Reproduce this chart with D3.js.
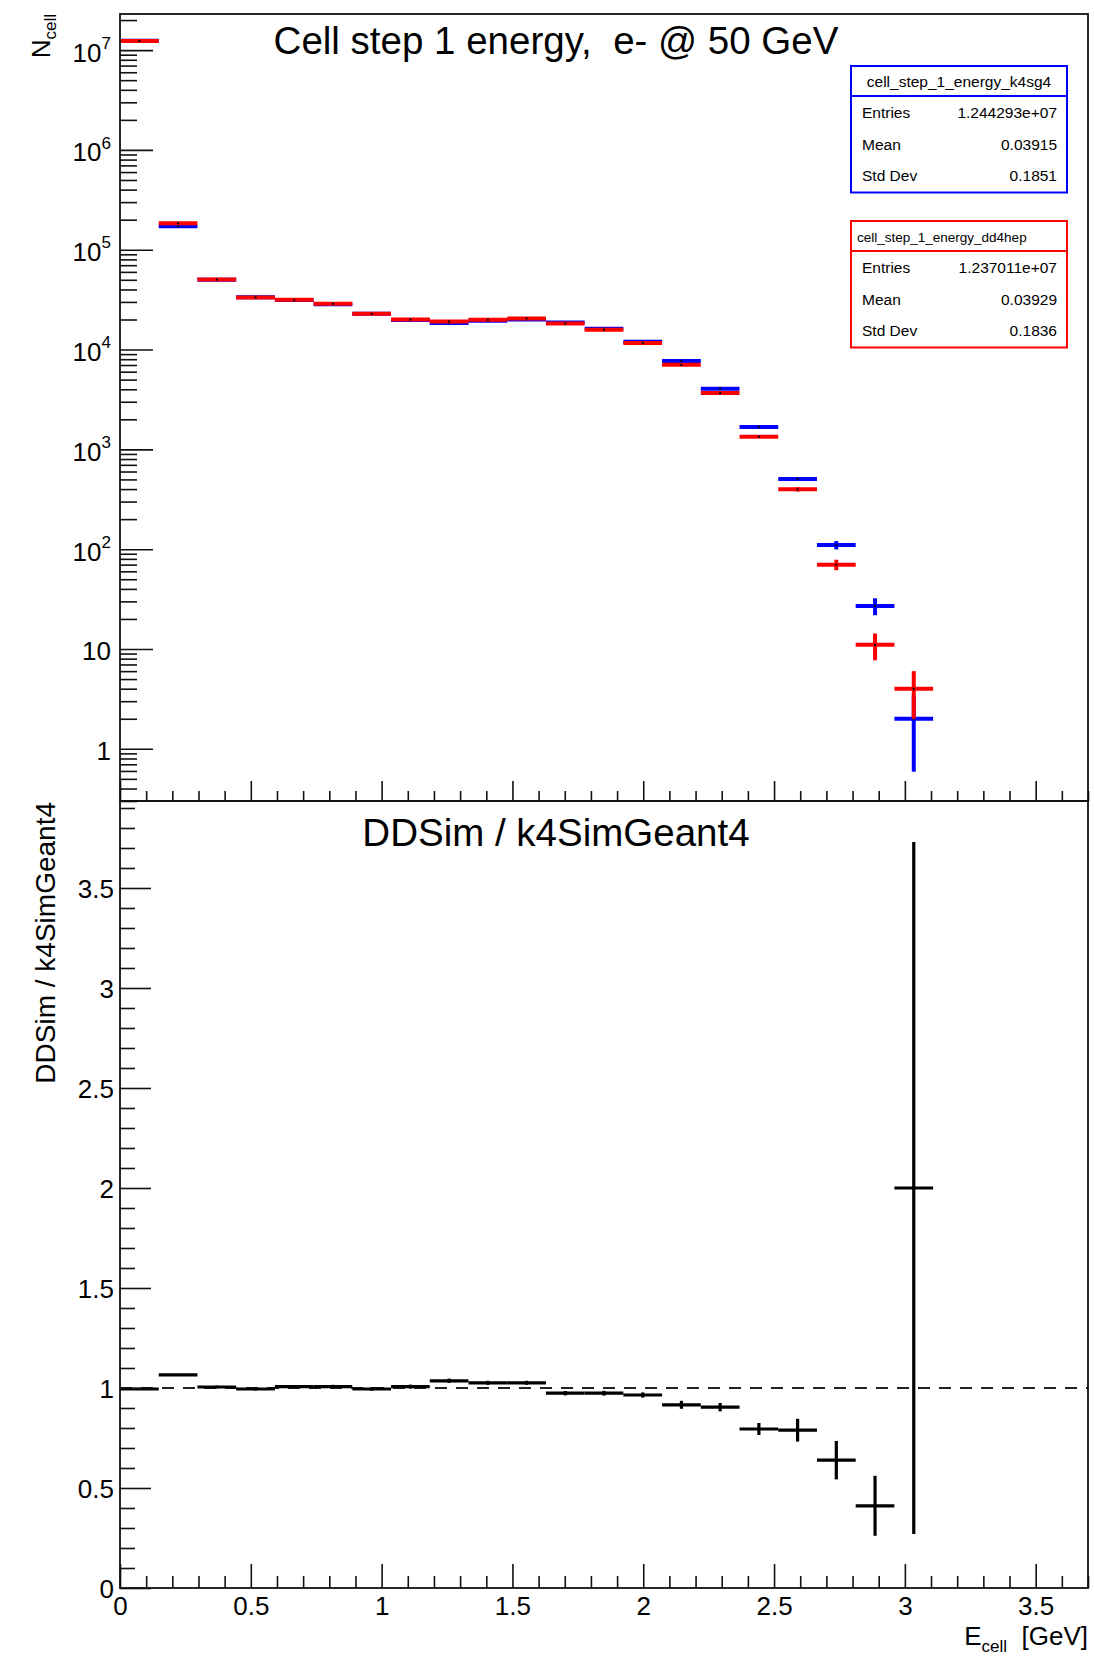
<!DOCTYPE html>
<html>
<head>
<meta charset="utf-8">
<script src="https://cdn.jsdelivr.net/npm/d3@7"></script>
<style>
  body { margin: 0; background: #fff; }
  text { font-family: "Liberation Sans", Arial, sans-serif; fill: #000; }
</style>
</head>
<body>
<div id="chart"></div>
<script>
// ---- data ----
const binWidth = 0.148;
const binLow = [0, 0.148, 0.296, 0.444, 0.592, 0.74, 0.888, 1.036, 1.184, 1.332, 1.48,
                1.628, 1.776, 1.924, 2.072, 2.22, 2.368, 2.516, 2.664, 2.812, 2.96];

// k4SimGeant4 (blue)
const k4sg4 = [1.24e7, 1.72e5, 5.0e4, 3.34e4, 3.13e4, 2.85e4, 2.29e4, 1.98e4, 1.84e4, 1.94e4, 2.0e4,
               1.87e4, 1.62e4, 1.2e4, 7.7e3, 4.05e3, 1680, 505, 110, 27, 2];
const k4sg4Err = [3521, 415, 224, 183, 177, 169, 151, 141, 136, 139, 141,
                  137, 127, 110, 88, 64, 41, 22, 10.5, 5.2, 1.41];

// DDSim / dd4hep (red)
const dd4hep = [1.234e7, 1.84e5, 5.03e4, 3.32e4, 3.15e4, 2.87e4, 2.28e4, 2.0e4, 1.91e4, 1.99e4, 2.05e4,
                1.82e4, 1.58e4, 1.16e4, 7.05e3, 3.66e3, 1340, 398, 70, 11, 4];
const dd4hepErr = [3513, 429, 224, 182, 177, 169, 151, 141, 138, 141, 143,
                   135, 126, 108, 84, 60, 37, 20, 8.4, 3.3, 2];

// ratio DDSim / k4SimGeant4
const ratio = [0.995, 1.066, 1.005, 0.995, 1.007, 1.007, 0.995, 1.007, 1.036, 1.026, 1.026,
               0.974, 0.974, 0.965, 0.916, 0.904, 0.795, 0.789, 0.639, 0.411, 2.0];
const ratioErr = [0.0004, 0.004, 0.007, 0.008, 0.008, 0.009, 0.009, 0.01, 0.011, 0.01, 0.01,
                  0.011, 0.012, 0.013, 0.02, 0.021, 0.03, 0.057, 0.096, 0.15, 1.73];

const xRange = [0, 3.7];
const yTopRange = [0.3, 2.3e7];
const yRatioRange = [0, 3.935];
const xMajor = [0, 0.5, 1, 1.5, 2, 2.5, 3, 3.5];
const ratioMajor = [0, 0.5, 1, 1.5, 2, 2.5, 3, 3.5];
const logMajor = [1, 10, 100, 1e3, 1e4, 1e5, 1e6, 1e7];

const statsK4 = { title: "cell_step_1_energy_k4sg4", rows: [["Entries", "1.244293e+07"], ["Mean", "0.03915"], ["Std Dev", "0.1851"]] };
const statsDD = { title: "cell_step_1_energy_dd4hep", rows: [["Entries", "1.237011e+07"], ["Mean", "0.03929"], ["Std Dev", "0.1836"]] };

// ---- layout ----
const W = 1094, H = 1657;
const fr = { left: 120, right: 1088, top: 14, mid: 801, bottom: 1588 };

const svg = d3.select("#chart").append("svg").attr("width", W).attr("height", H);

const x = d3.scaleLinear().domain(xRange).range([fr.left, fr.right]);
const yTop = d3.scaleLog().domain(yTopRange).range([fr.mid, fr.top]);
const yRat = d3.scaleLinear().domain(yRatioRange).range([fr.bottom, fr.mid]);

// clip paths
const defs = svg.append("defs");
defs.append("clipPath").attr("id", "clipTop").append("rect")
  .attr("x", fr.left).attr("y", fr.top).attr("width", fr.right - fr.left).attr("height", fr.mid - fr.top);
defs.append("clipPath").attr("id", "clipRat").append("rect")
  .attr("x", fr.left).attr("y", fr.mid).attr("width", fr.right - fr.left).attr("height", fr.bottom - fr.mid);

function drawHist(g, vals, errs, color, yScale, lw) {
  const lo = yScale.domain()[0];
  const data = vals.map((v, i) => ({ v: v, e: errs[i], x0: binLow[i] }));
  const bins = g.selectAll(null).data(data).enter().append("g");
  bins.append("line")
    .attr("x1", d => x(d.x0)).attr("x2", d => x(d.x0 + binWidth))
    .attr("y1", d => yScale(d.v)).attr("y2", d => yScale(d.v))
    .attr("stroke", color).attr("stroke-width", lw);
  bins.append("line")
    .attr("x1", d => x(d.x0 + binWidth / 2)).attr("x2", d => x(d.x0 + binWidth / 2))
    .attr("y1", d => yScale(Math.max(d.v - d.e, lo))).attr("y2", d => yScale(d.v + d.e))
    .attr("stroke", color).attr("stroke-width", lw);
  bins.append("rect")
    .attr("x", d => x(d.x0 + binWidth / 2) - 1).attr("y", d => yScale(d.v) - 1)
    .attr("width", 2).attr("height", 2).attr("fill", "#000");
}

// ---- top pad ----
const gTop = svg.append("g").attr("clip-path", "url(#clipTop)");
drawHist(gTop.append("g"), k4sg4, k4sg4Err, "#0000ff", yTop, 4);
drawHist(gTop.append("g"), dd4hep, dd4hepErr, "#ff0000", yTop, 4);

// log minor ticks
const logMinor = [];
for (let e = -1; e <= 7; e++) for (let m = 2; m <= 9; m++) {
  const v = m * Math.pow(10, e);
  if (v >= yTopRange[0] && v <= yTopRange[1]) logMinor.push(v);
}
svg.append("g").attr("transform", `translate(${fr.left},0)`)
  .call(d3.axisLeft(yTop).tickValues(logMinor).tickSize(-17).tickFormat(""))
  .call(g => g.select(".domain").remove());
const yTopAxis = svg.append("g").attr("transform", `translate(${fr.left},0)`)
  .call(d3.axisLeft(yTop).tickValues(logMajor).tickSize(-33).tickPadding(9).tickFormat(""))
  .call(g => g.select(".domain").remove());
yTopAxis.selectAll(".tick text").each(function (d) {
  const t = d3.select(this).attr("font-size", 26).attr("dy", "0.42em").attr("fill", "#000");
  const p = Math.round(Math.log10(d));
  if (p === 0) t.text("1");
  else if (p === 1) t.text("10");
  else {
    t.append("tspan").text("10");
    t.append("tspan").attr("font-size", 17).attr("dy", "-0.75em").text(p);
  }
});

// x ticks of the top pad (no labels)
const xMinor = d3.range(0, 3.7001, 0.1).filter(v => Math.abs(v * 2 - Math.round(v * 2)) > 1e-6);
svg.append("g").attr("transform", `translate(0,${fr.mid})`)
  .call(d3.axisBottom(x).tickValues(xMinor).tickSize(-10).tickFormat(""))
  .call(g => g.select(".domain").remove());
svg.append("g").attr("transform", `translate(0,${fr.mid})`)
  .call(d3.axisBottom(x).tickValues(xMajor).tickSize(-20).tickFormat(""))
  .call(g => g.select(".domain").remove());

// ---- ratio pad ----
const gRat = svg.append("g").attr("clip-path", "url(#clipRat)");
gRat.append("line")
  .attr("x1", x(xRange[0])).attr("x2", x(xRange[1]))
  .attr("y1", yRat(1)).attr("y2", yRat(1))
  .attr("stroke", "#222").attr("stroke-width", 2).attr("stroke-dasharray", "12,9");
drawHist(gRat.append("g"), ratio, ratioErr, "#000", yRat, 3.2);

const ratioMinor = d3.range(0, 3.9301, 0.1).filter(v => Math.abs(v * 2 - Math.round(v * 2)) > 1e-6);
svg.append("g").attr("transform", `translate(${fr.left},0)`)
  .call(d3.axisLeft(yRat).tickValues(ratioMinor).tickSize(-15).tickFormat(""))
  .call(g => g.select(".domain").remove());
svg.append("g").attr("transform", `translate(${fr.left},0)`)
  .call(d3.axisLeft(yRat).tickValues(ratioMajor).tickSize(-31).tickPadding(6).tickFormat(d3.format("")))
  .call(g => g.select(".domain").remove())
  .call(g => g.selectAll(".tick text").attr("font-size", 26).attr("dy", "0.36em").attr("fill", "#000"));

svg.append("g").attr("transform", `translate(0,${fr.bottom})`)
  .call(d3.axisBottom(x).tickValues(xMinor).tickSize(-12).tickFormat(""))
  .call(g => g.select(".domain").remove());
svg.append("g").attr("transform", `translate(0,${fr.bottom})`)
  .call(d3.axisBottom(x).tickValues(xMajor).tickSize(-24).tickPadding(9).tickFormat(d3.format("")))
  .call(g => g.select(".domain").remove())
  .call(g => g.selectAll(".tick text").attr("font-size", 26).attr("fill", "#000"));

svg.selectAll(".tick line").attr("stroke", "#111").attr("stroke-width", 1.6);

// frames
svg.append("rect").attr("x", fr.left).attr("y", fr.top).attr("width", fr.right - fr.left).attr("height", fr.mid - fr.top)
  .attr("fill", "none").attr("stroke", "#111").attr("stroke-width", 1.8);
svg.append("rect").attr("x", fr.left).attr("y", fr.mid).attr("width", fr.right - fr.left).attr("height", fr.bottom - fr.mid)
  .attr("fill", "none").attr("stroke", "#111").attr("stroke-width", 1.8);

// ---- titles ----
svg.append("text").attr("x", 556).attr("y", 54).attr("text-anchor", "middle").attr("font-size", 38.5)
  .style("white-space", "pre").text("Cell step 1 energy,  e- @ 50 GeV");
svg.append("text").attr("x", 556).attr("y", 846).attr("text-anchor", "middle").attr("font-size", 38.5)
  .text("DDSim / k4SimGeant4");

const nCell = svg.append("text").attr("transform", `translate(50,${fr.top}) rotate(-90)`)
  .attr("text-anchor", "end").attr("font-size", 26);
nCell.append("tspan").text("N");
nCell.append("tspan").attr("font-size", 17).attr("dy", "0.35em").text("cell");

svg.append("text").attr("transform", `translate(55,${fr.mid + 1}) rotate(-90)`)
  .attr("text-anchor", "end").attr("font-size", 28).text("DDSim / k4SimGeant4");

const xTitle = svg.append("text").attr("x", fr.right).attr("y", 1645).attr("text-anchor", "end").attr("font-size", 26)
  .style("white-space", "pre");
xTitle.append("tspan").text("E");
xTitle.append("tspan").attr("font-size", 17).attr("dy", "0.4em").text("cell");
xTitle.append("tspan").attr("dy", "-0.27em").text("  [GeV]");

// ---- stats boxes ----
function statsBox(st, color, top, titleSize, titleLeft) {
  const bx = 851, bw = 216, rowH = 31.6;
  const g = svg.append("g");
  g.append("rect").attr("x", bx).attr("y", top).attr("width", bw).attr("height", 126.5)
    .attr("fill", "#fff").attr("stroke", color).attr("stroke-width", 2);
  g.append("line").attr("x1", bx).attr("x2", bx + bw).attr("y1", top + 30).attr("y2", top + 30)
    .attr("stroke", color).attr("stroke-width", 2);
  g.append("text").attr("x", titleLeft ? bx + 6 : bx + bw / 2).attr("y", top + 21)
    .attr("text-anchor", titleLeft ? "start" : "middle").attr("font-size", titleSize).text(st.title);
  st.rows.forEach((r, i) => {
    const yy = top + 52 + i * rowH;
    g.append("text").attr("x", bx + 11).attr("y", yy).attr("font-size", 15.5).text(r[0]);
    g.append("text").attr("x", bx + bw - 10).attr("y", yy).attr("text-anchor", "end").attr("font-size", 15.5).text(r[1]);
  });
}
statsBox(statsK4, "#0000ff", 66, 15.5, false);
statsBox(statsDD, "#ff0000", 221, 13.5, true);
</script>
</body>
</html>
